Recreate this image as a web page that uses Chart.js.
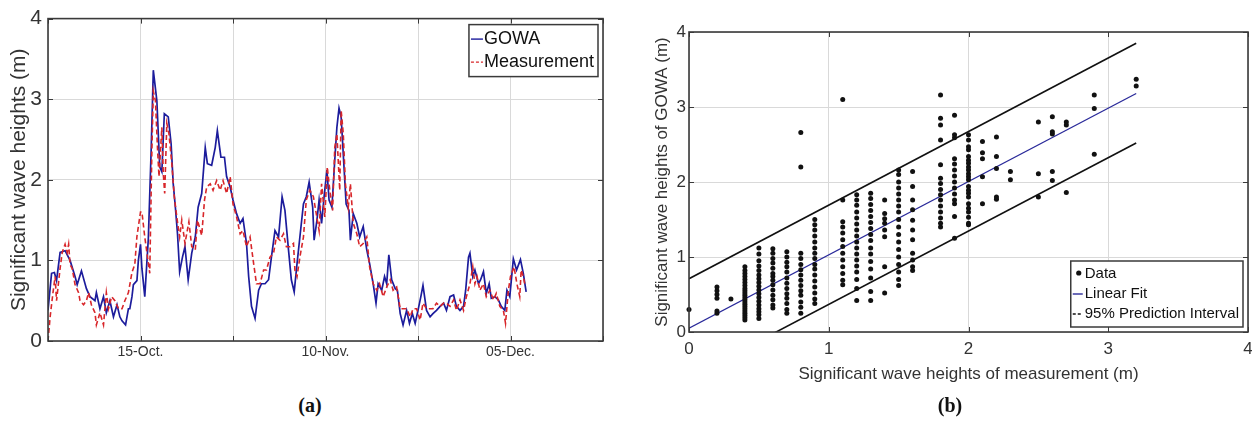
<!DOCTYPE html>
<html>
<head>
<meta charset="utf-8">
<script src="https://cdn.jsdelivr.net/npm/chart.js@4.4.1/dist/chart.umd.min.js"></script>
<style>
  html, body { margin: 0; padding: 0; background: #fff; }
  body { width: 1252px; height: 421px; position: relative; overflow: hidden; }
  canvas { position: absolute; top: 0; }
  #timeChart { left: 0; }
  #scatChart { left: 640px; }
  .cap { position: absolute; top: 394px; font: bold 20px "Liberation Serif", "DejaVu Serif", serif; color: #111; transform: translateX(-50%); }
</style>
</head>
<body>
<canvas id="timeChart" width="626" height="380"></canvas>
<canvas id="scatChart" width="612" height="400"></canvas>
<div class="cap" style="left:310px">(a)</div>
<div class="cap" style="left:950px">(b)</div>
<script>
/* (a) time series — days from start of record */
const gowaDay = [0,0.5,0.9,1.2,1.7,2.4,3.1,3.8,4.1,4.7,5.4,5.9,6.6,6.8,7.3,7.8,8.2,8.7,9.2,9.7,10.1,10.4,10.9,11.1,11.3,11.5,11.8,12,12.5,12.7,13,13.2,13.6,
  14.1,14.5,14.8,15.3,15.5,15.7,16,16.35,16.9,17.3,17.6,17.9,18.2,18.5,18.9,19.25,19.7,20.2,20.7,21.1,21.6,22.1,22.4,23,23.5,23.8,24.3,24.8,25.1,25.6,26,26.5,27,27.4,27.9,
  28.2,28.6,29.1,29.6,30,30.5,31,31.4,31.9,32.4,32.9,33.3,33.8,34.2,34.6,35,35.4,35.9,36.3,36.7,37.2,37.4,37.8,38.1,38.45,38.8,39.2,39.5,39.9,40.3,40.6,40.9,41.2,41.6,
  41.9,42.3,42.5,42.9,43.4,43.8,44.3,44.8,45.2,45.7,46.1,46.4,46.9,47.3,47.6,47.9,48.3,48.8,49.1,49.5,49.9,50.4,50.8,51.2,51.6,52,52.4,52.7,53.2,53.7,54.1,54.6,55.1,
  55.6,56,56.5,57,57.4,57.9,58.4,58.7,59.1,59.3,59.7,60,60.5,60.8,61.2,61.6,62,62.3,62.8,63.3,63.7,64.2,64.5,64.9,65.4,65.85,66.4,66.8,67.2];
const gowaHs = [0.38,0.84,0.85,0.75,1.10,1.12,1.00,0.80,0.70,0.87,0.65,0.55,0.50,0.60,0.40,0.55,0.35,0.50,0.30,0.45,0.30,0.25,0.20,0.30,0.40,0.40,0.55,0.70,0.75,1.00,1.20,0.90,0.55,
  1.27,2.37,3.36,2.98,2.57,2.16,2.10,2.82,2.78,2.45,1.95,1.66,1.33,0.86,1.04,1.17,0.76,1.09,1.29,1.66,1.83,2.40,2.20,2.18,2.40,2.61,2.28,2.28,2.04,1.91,1.75,1.58,1.46,1.52,1.21,
  0.80,0.43,0.28,0.63,0.71,0.71,0.76,1.04,1.37,1.29,1.79,1.62,1.13,0.76,0.61,0.96,1.29,1.70,1.79,1.97,1.66,1.25,1.50,1.75,1.46,1.79,2.12,1.75,1.66,2.24,2.65,2.89,2.78,2.16,
  1.70,1.62,1.25,1.58,1.46,1.29,1.42,1.13,0.96,0.71,0.47,0.71,0.63,0.80,0.71,1.07,0.76,0.65,0.63,0.34,0.20,0.38,0.22,0.34,0.22,0.38,0.55,0.69,0.38,0.30,0.34,0.38,0.43,
  0.47,0.38,0.55,0.57,0.43,0.38,0.43,0.63,1.04,1.09,0.80,0.88,0.71,0.76,0.86,0.59,0.71,0.53,0.55,0.51,0.43,0.38,0.63,0.55,1.02,0.88,1.01,0.84,0.61];

const measDay = [0,0.3,0.7,1,1.2,1.7,2,2.4,2.7,2.9,3.1,3.4,3.8,4.3,4.5,5,5.4,5.7,6.1,6.6,6.8,7.3,7.8,8.2,8.5,8.95,9.4,9.9,10.4,10.8,11.3,11.8,12.2,12.5,13,13.2,13.6,
  14.3,14.6,14.8,15.1,15.4,15.6,16,16.2,16.4,16.7,17,17.4,17.75,18.1,18.5,18.8,19.25,19.8,20.2,20.7,21,21.6,22,22.3,22.8,23.2,23.7,24.2,24.6,25.1,25.6,26,26.5,27,27.4,27.9,
  28.4,28.9,29.3,29.8,30.3,30.7,31.2,31.7,32.1,32.6,33.1,33.5,34,34.5,34.7,35,35.4,35.9,36.3,36.8,37.3,37.7,38.1,38.45,38.9,39.25,39.6,40,40.3,40.6,41,41.2,41.5,41.8,
  42.2,42.5,42.9,43.4,43.8,44.3,44.8,45.2,45.7,46.2,46.6,47.1,47.6,48.1,48.5,49,49.5,49.9,50.4,50.9,51.3,51.8,52.3,52.7,53.2,53.7,54.1,54.6,55.1,55.6,56,56.5,57,57.4,
  57.9,58.4,58.8,59.3,59.7,60,60.3,60.7,61.2,61.6,62.1,62.6,63,63.5,64,64.3,64.7,65,65.5,65.9,66.3,66.5,66.8,67];
const measHs = [0,0.30,0.60,0.80,0.50,0.90,1.10,1.20,1.10,1.20,0.95,0.90,0.70,0.60,0.50,0.45,0.50,0.60,0.45,0.35,0.20,0.35,0.20,0.60,0.40,0.55,0.50,0.40,0.40,0.50,0.60,0.85,0.95,1.30,1.60,1.60,1.29,
  0.84,2.37,3.10,2.98,2.37,2.04,2.65,2.08,1.83,2.70,2.57,2.20,1.79,1.54,1.29,1.50,1.21,1.48,1.17,1.13,1.50,1.31,1.75,1.91,1.95,1.87,1.99,1.87,1.99,1.83,2.04,1.70,1.54,1.33,1.37,1.17,
  1.29,0.96,0.71,0.71,0.88,0.88,1.04,1.09,1.29,1.25,1.33,1.17,1.17,1.21,0.88,0.80,1.04,1.29,1.75,1.87,1.79,1.58,1.37,1.95,1.54,2.16,1.87,1.62,2.40,2.57,1.87,2.86,2.57,1.95,
  1.66,1.95,1.46,1.33,1.17,1.21,1.29,0.92,0.71,0.63,0.71,0.55,0.67,0.76,0.63,0.67,0.40,0.40,0.40,0.30,0.40,0.40,0.26,0.47,0.40,0.40,0.40,0.47,0.43,0.47,0.47,0.43,0.51,0.38,
  0.51,0.38,0.55,0.71,0.92,0.71,0.80,0.63,0.71,0.55,0.63,0.51,0.59,0.43,0.38,0.22,0.63,0.80,0.92,0.71,0.55,0.88,0.80,0.71];

const timeTickDays = [13, 39, 65];
const timeTickLabels = ['15-Oct.', '10-Nov.', '05-Dec.'];

/* (b) scatter: measurement vs GOWA */
const scatMeas = [0,
  0.2,0.2,0.2,0.2,0.2,0.2, 0.3,
  0.4,0.4,0.4,0.4,0.4,0.4,0.4,0.4,0.4,0.4,0.4,0.4,0.4,0.4,0.4,0.4,0.4,0.4,0.4,0.4,0.4,0.4,
  0.5,0.5,0.5,0.5,0.5,0.5,0.5,0.5,0.5,0.5,0.5,0.5,0.5,0.5,0.5,0.5,0.5,0.5,
  0.6,0.6,0.6,0.6,0.6,0.6,0.6,0.6,0.6,0.6,0.6,0.6,0.6,0.6,
  0.7,0.7,0.7,0.7,0.7,0.7,0.7,0.7,0.7,0.7,0.7,0.7,0.7,
  0.8,0.8,0.8,0.8,0.8,0.8,0.8,0.8,0.8,0.8,0.8,0.8,0.8,0.8,
  0.9,0.9,0.9,0.9,0.9,0.9,0.9,0.9,0.9,0.9,0.9,0.9,0.9,0.9,0.9,0.9,
  1.1,1.1,1.1,1.1,1.1,1.1,1.1,1.1,1.1,1.1,1.1,1.1,1.1,
  1.2,1.2,1.2,1.2,1.2,1.2,1.2,1.2,1.2,1.2,1.2,1.2,1.2,1.2,1.2,1.2,1.2,
  1.3,1.3,1.3,1.3,1.3,1.3,1.3,1.3,1.3,1.3,1.3,1.3,1.3,1.3,1.3,1.3,
  1.4,1.4,1.4,1.4,1.4,1.4,1.4,1.4,
  1.5,1.5,1.5,1.5,1.5,1.5,1.5,1.5,1.5,1.5,1.5,1.5,1.5,1.5,1.5,1.5,1.5,1.5,
  1.6,1.6,1.6,1.6,1.6,1.6,1.6,1.6,1.6,1.6,1.6,
  1.8,1.8,1.8,1.8,1.8,1.8,1.8,1.8,1.8,1.8,1.8,1.8,1.8,1.8,1.8,
  1.9,1.9,1.9,1.9,1.9,1.9,1.9,1.9,1.9,1.9,1.9,1.9,1.9,1.9,
  2.0,2.0,2.0,2.0,2.0,2.0,2.0,2.0,2.0,2.0,2.0,2.0,2.0,2.0,2.0,2.0,2.0,2.0,2.0,2.0,2.0,2.0,
  2.1,2.1,2.1,2.1,2.1, 2.2,2.2,2.2,2.2,2.2, 2.3,2.3, 2.5,2.5,2.5,
  2.6,2.6,2.6,2.6,2.6, 2.7,2.7,2.7, 2.9,2.9,2.9, 3.2,3.2];
const scatGowa = [0.30,
  0.25,0.28,0.45,0.50,0.55,0.60, 0.44,
  0.16,0.19,0.22,0.25,0.28,0.31,0.34,0.37,0.40,0.43,0.46,0.49,0.52,0.55,0.58,0.62,0.66,0.70,0.74,0.78,0.82,0.87,
  0.18,0.23,0.27,0.31,0.36,0.41,0.46,0.51,0.56,0.61,0.66,0.71,0.76,0.82,0.88,0.95,1.04,1.12,
  0.32,0.36,0.43,0.49,0.56,0.63,0.69,0.74,0.78,0.85,0.92,0.98,1.05,1.11,
  0.25,0.30,0.38,0.45,0.51,0.58,0.65,0.72,0.80,0.87,0.93,1.00,1.07,
  0.25,0.33,0.40,0.49,0.55,0.62,0.69,0.76,0.83,0.90,0.98,1.05,2.20,2.66,
  0.38,0.44,0.52,0.60,0.68,0.76,0.84,0.90,0.98,1.05,1.12,1.20,1.28,1.36,1.43,1.50,
  0.63,0.69,0.78,0.87,0.96,1.05,1.14,1.23,1.32,1.40,1.47,1.76,3.10,
  0.42,0.58,0.70,0.80,0.88,0.96,1.04,1.12,1.20,1.28,1.36,1.44,1.52,1.60,1.69,1.76,1.83,
  0.42,0.54,0.72,0.84,0.94,1.04,1.12,1.22,1.30,1.38,1.46,1.54,1.62,1.70,1.78,1.85,
  0.52,0.87,1.27,1.36,1.45,1.51,1.58,1.76,
  0.62,0.70,0.80,0.90,1.00,1.10,1.20,1.30,1.40,1.50,1.60,1.68,1.76,1.84,1.92,2.00,2.10,2.16,
  0.82,0.87,0.96,1.05,1.23,1.36,1.49,1.63,1.76,1.94,2.14,
  1.40,1.45,1.52,1.60,1.68,1.76,1.83,1.90,1.98,2.05,2.23,2.56,2.76,2.85,3.16,
  1.25,1.54,1.71,1.76,1.84,1.92,2.00,2.08,2.16,2.24,2.31,2.59,2.63,2.89,
  1.43,1.45,1.53,1.60,1.65,1.71,1.80,1.85,1.89,1.94,2.03,2.07,2.11,2.16,2.20,2.25,2.29,2.34,2.43,2.47,2.56,2.63,
  1.71,2.07,2.31,2.39,2.54, 1.77,1.80,2.18,2.34,2.60, 2.03,2.14, 1.80,2.11,2.80,
  2.02,2.14,2.64,2.67,2.87, 1.86,2.76,2.80, 2.37,2.98,3.16, 3.28,3.37];

const fitX = [0, 3.2];
const fitY = [0.05, 3.18];
const piUpperY = [0.71, 3.85];
const piLowerY = [-0.61, 2.52];

const FONT = '"Liberation Sans", Arial, sans-serif';
const GRID = '#d9d9d9';
const INK = '#333';
const pts = (xs, ys) => xs.map((x, i) => ({ x, y: ys[i] }));

// MATLAB style box with inward ticks on all four sides
const framePlugin = {
  id: 'frame',
  afterDraw(chart) {
    const { ctx, chartArea: a, scales } = chart;
    const L = 5;
    ctx.save();
    ctx.strokeStyle = '#3a3a3a';
    ctx.lineWidth = 1;
    ctx.beginPath();
    scales.x.ticks.forEach(t => {
      const p = Math.round(scales.x.getPixelForValue(t.value)) + 0.5;
      ctx.moveTo(p, a.bottom); ctx.lineTo(p, a.bottom - L);
      ctx.moveTo(p, a.top); ctx.lineTo(p, a.top + L);
    });
    scales.y.ticks.forEach(t => {
      const p = Math.round(scales.y.getPixelForValue(t.value)) + 0.5;
      ctx.moveTo(a.left, p); ctx.lineTo(a.left + L, p);
      ctx.moveTo(a.right, p); ctx.lineTo(a.right - L, p);
    });
    ctx.stroke();
    ctx.lineWidth = 1.6;
    ctx.strokeRect(a.left, a.top, a.width, a.height);
    ctx.restore();
  }
};

// legend drawn inside the axes, boxed
const boxLegend = {
  id: 'boxLegend',
  afterDraw(chart, args, o) {
    const { ctx, chartArea: a } = chart;
    const items = chart.data.datasets.filter(d => d.label);
    ctx.save();
    ctx.font = `${o.size}px ${FONT}`;
    const tw = Math.max(...items.map(d => ctx.measureText(d.label).width));
    const w = o.sym + o.gap + tw + 4;
    const h = items.length * o.row + 6;
    const x0 = a.right - o.right - w;
    const y0 = o.top != null ? a.top + o.top : a.bottom - o.bottom - h;
    ctx.fillStyle = '#fff';
    ctx.fillRect(x0, y0, w, h);
    ctx.strokeStyle = '#3a3a3a';
    ctx.lineWidth = 1.5;
    ctx.strokeRect(x0, y0, w, h);
    items.forEach((d, i) => {
      const cy = y0 + 3 + o.row * (i + 0.5);
      if (d.showLine === false) {
        ctx.fillStyle = d.pointBackgroundColor;
        ctx.beginPath(); ctx.arc(x0 + o.sym - 4, cy - 1, 2.6, 0, Math.PI * 2); ctx.fill();
      } else {
        ctx.strokeStyle = d.borderColor;
        ctx.lineWidth = 1.4;
        ctx.setLineDash(d.legendDash ? [3, 2] : []);
        ctx.beginPath(); ctx.moveTo(x0 + 2, cy); ctx.lineTo(x0 + o.sym, cy); ctx.stroke();
        ctx.setLineDash([]);
      }
      ctx.fillStyle = '#111';
      ctx.textBaseline = 'middle';
      ctx.fillText(d.label, x0 + o.sym + o.gap, cy);
    });
    ctx.restore();
  }
};

new Chart(document.getElementById('timeChart'), {
  type: 'line',
  data: {
    datasets: [
      { label: 'GOWA', data: pts(gowaDay, gowaHs), borderColor: '#1c1c9c', borderWidth: 1.7,
        pointRadius: 0, tension: 0, order: 2 },
      { label: 'Measurement', data: pts(measDay, measHs), borderColor: '#d8262a', borderWidth: 1.6,
        borderDash: [5, 3], legendDash: true, pointRadius: 0, tension: 0, order: 1 }
    ]
  },
  options: {
    responsive: false, animation: false, devicePixelRatio: 1,
    layout: { padding: { top: 18, right: 23, left: 0, bottom: 0 } },
    plugins: {
      legend: { display: false }, tooltip: { enabled: false },
      boxLegend: { size: 18, sym: 14, gap: 1, row: 23, right: 5, top: 6 }
    },
    scales: {
      x: {
        type: 'linear', min: 0, max: 78,
        ticks: { stepSize: 13, color: INK, padding: 3, maxRotation: 0, autoSkip: false,
          font: { family: FONT, size: 14 },
          callback: v => { const i = timeTickDays.indexOf(v); return i < 0 ? '' : timeTickLabels[i]; } },
        grid: { color: GRID, drawTicks: false }, border: { display: false },
        afterFit: s => { s.height = 39; }
      },
      y: {
        min: 0, max: 4,
        ticks: { stepSize: 1, color: INK, padding: 6, font: { family: FONT, size: 21 } },
        grid: { color: GRID, drawTicks: false }, border: { display: false },
        title: { display: true, text: 'Significant wave heights (m)', color: INK,
          font: { family: FONT, size: 21 }, padding: { top: 7, bottom: 0 } },
        afterFit: s => { s.width = 48; }
      }
    }
  },
  plugins: [framePlugin, boxLegend]
});

new Chart(document.getElementById('scatChart'), {
  type: 'line',
  data: {
    datasets: [
      { label: 'Data', data: pts(scatMeas, scatGowa), showLine: false, pointRadius: 2.5,
        pointBackgroundColor: '#111', pointBorderWidth: 0, borderColor: '#111', clip: 4 },
      { label: 'Linear Fit', data: pts(fitX, fitY), borderColor: '#2a2a9a', borderWidth: 1.3, pointRadius: 0 },
      { label: '95% Prediction Interval', data: pts(fitX, piUpperY), borderColor: '#111', borderWidth: 1.6,
        legendDash: true, pointRadius: 0 },
      { label: '', data: pts(fitX, piLowerY), borderColor: '#111', borderWidth: 1.6, pointRadius: 0 }
    ]
  },
  options: {
    responsive: false, animation: false, devicePixelRatio: 1,
    layout: { padding: { top: 32, right: 3, left: 0, bottom: 0 } },
    plugins: {
      legend: { display: false }, tooltip: { enabled: false },
      boxLegend: { size: 15, sym: 12, gap: 2, row: 20, right: 5, bottom: 5 }
    },
    scales: {
      x: {
        type: 'linear', min: 0, max: 4,
        ticks: { stepSize: 1, color: INK, padding: 7, maxRotation: 0, font: { family: FONT, size: 17 } },
        grid: { color: GRID, drawTicks: false }, border: { display: false },
        title: { display: true, text: 'Significant wave heights of measurement (m)', color: INK,
          font: { family: FONT, size: 17 }, padding: { top: 0, bottom: 15 } },
        // let the last "4" run to the page edge as in the original figure
        afterFit: s => { s.height = 68; s.paddingRight = 0; }
      },
      y: {
        min: 0, max: 4,
        ticks: { stepSize: 1, color: INK, padding: 3, font: { family: FONT, size: 17 } },
        grid: { color: GRID, drawTicks: false }, border: { display: false },
        title: { display: true, text: 'Significant wave heights of GOWA (m)', color: INK,
          font: { family: FONT, size: 17 }, padding: { top: 12, bottom: 0 } },
        afterFit: s => { s.width = 49; }
      }
    }
  },
  plugins: [framePlugin, boxLegend]
});
</script>
</body>
</html>
